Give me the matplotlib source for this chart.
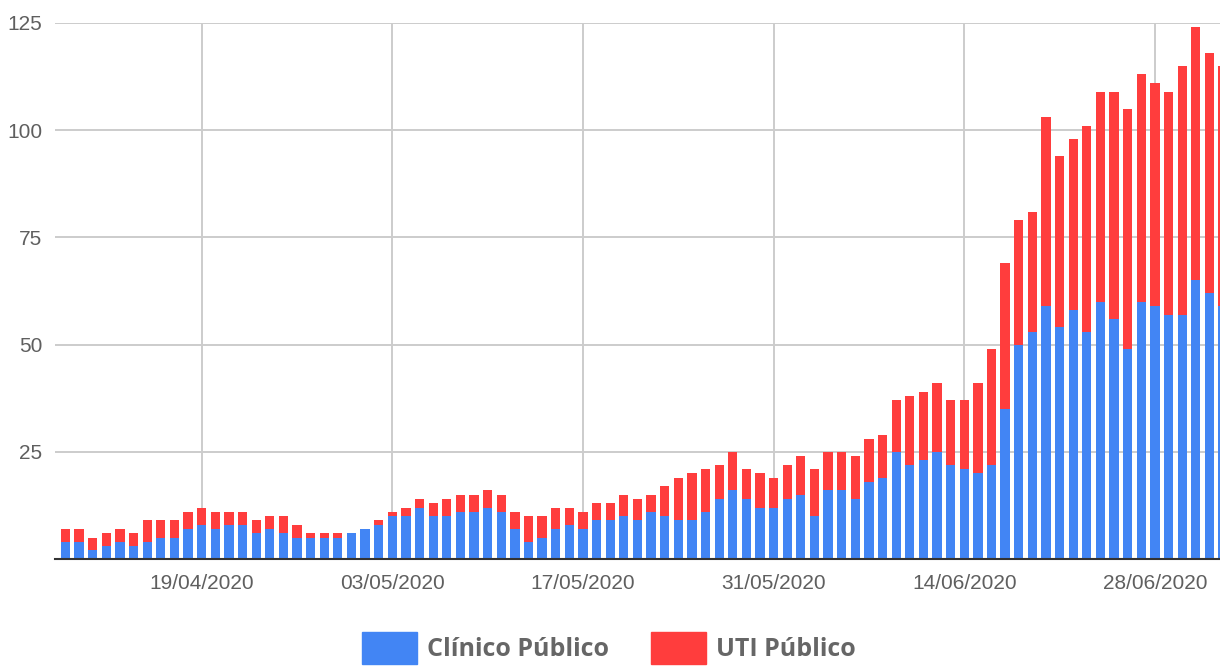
import numpy as np
import pandas as pd
import matplotlib
matplotlib.use('Agg')
import matplotlib.pyplot as plt
from matplotlib.patches import Patch

# daily counts, 09/04/2020 .. 03/07/2020
clinico = [4, 4, 2, 3, 4, 3, 4, 5, 5, 7,
           8, 7, 8, 8, 6, 7, 6, 5, 5, 5,
           5, 6, 7, 8, 10, 10, 12, 10, 10, 11,
           11, 12, 11, 7, 4, 5, 7, 8, 7, 9,
           9, 10, 9, 11, 10, 9, 9, 11, 14, 16,
           14, 12, 12, 14, 15, 10, 16, 16, 14, 18,
           19, 25, 22, 23, 25, 22, 21, 20, 22, 35,
           50, 53, 59, 54, 58, 53, 60, 56, 49, 60,
           59, 57, 57, 65, 62, 59]
uti = [3, 3, 3, 3, 3, 3, 5, 4, 4, 4,
       4, 4, 3, 3, 3, 3, 4, 3, 1, 1,
       1, 0, 0, 1, 1, 2, 2, 3, 4, 4,
       4, 4, 4, 4, 6, 5, 5, 4, 4, 4,
       4, 5, 5, 4, 7, 10, 11, 10, 8, 9,
       7, 8, 7, 8, 9, 11, 9, 9, 10, 10,
       10, 12, 16, 16, 16, 15, 16, 21, 27, 34,
       29, 28, 44, 40, 40, 48, 49, 53, 56, 53,
       52, 52, 58, 59, 56, 56]
dates = pd.date_range('2020-04-09', periods=len(clinico)).strftime('%d/%m/%Y').tolist()
tick_labels = ['19/04/2020', '03/05/2020', '17/05/2020', '31/05/2020', '14/06/2020', '28/06/2020']
y_ticks = [25, 50, 75, 100, 125]

blue = '#4285f4'
red = '#ff3d3d'

plt.rcParams['font.family'] = ['Liberation Sans', 'DejaVu Sans']

fig = plt.figure(figsize=(12.2, 6.66), dpi=100)
ax = fig.add_axes([55 / 1220, 1 - 559 / 666, 1 - 55 / 1220, (559 - 23) / 666])

x = np.arange(len(dates))
ax.bar(x, clinico, width=0.68, color=blue, linewidth=0, zorder=3)
ax.bar(x, uti, width=0.68, bottom=clinico, color=red, linewidth=0, zorder=3)

ax.set_xlim(-0.77, len(dates) - 1 - 0.22)
ax.set_ylim(0, 125)

tick_pos = [dates.index(t) for t in tick_labels]
ax.set_xticks(tick_pos)
ax.set_xticklabels(tick_labels)
ax.set_yticks(y_ticks)
ax.tick_params(axis='both', length=0, labelsize=15, colors='#5f5f5f')
ax.tick_params(axis='x', pad=11)
ax.tick_params(axis='y', pad=9)

ax.grid(True, color='#cccccc', linewidth=1.4, zorder=0)
ax.set_axisbelow(True)
for s in ['top', 'right', 'left']:
    ax.spines[s].set_visible(False)
ax.spines['bottom'].set_color('#333333')
ax.spines['bottom'].set_linewidth(1.5)
ax.spines['bottom'].set_zorder(4)

handles = [Patch(color=blue, label='Clínico Público'),
           Patch(color=red, label='UTI Público')]
fig.legend(handles=handles, loc='upper center', bbox_to_anchor=(0.499, 1 - 614 / 666),
           ncol=2, frameon=False, handlelength=2.2, handleheight=1.6,
           handletextpad=0.4, columnspacing=1.7, borderpad=0.2,
           prop={'family': 'Open Sans', 'weight': 'bold', 'size': 18},
           labelcolor='#666666')

fig.savefig('out.png', dpi=100)
